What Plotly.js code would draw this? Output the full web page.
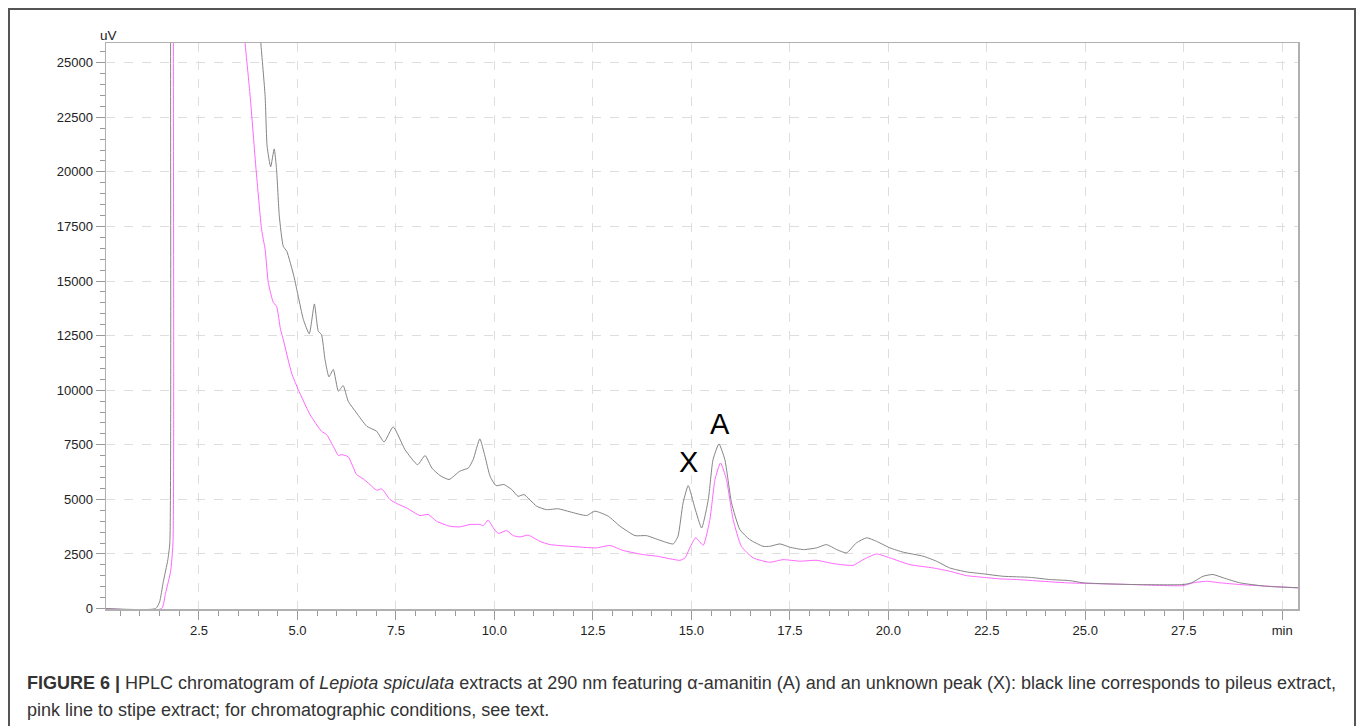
<!DOCTYPE html>
<html>
<head>
<meta charset="utf-8">
<script src="https://cdn.plot.ly/plotly-3.0.1.min.js"></script>
<style>
  html, body { margin:0; padding:0; background:#fff; width:1358px; height:726px; overflow:hidden; }
  #frame { position:absolute; left:8px; top:8px; width:1348px; height:740px; border:2px solid #555; box-sizing:border-box; }
  #chart { position:absolute; left:0; top:0; width:1358px; height:726px; }
</style>
</head>
<body>
<div id="frame"></div>
<div id="chart"></div>
<script>
// Retention time (min) and signal (uV), pileus extract (black line)
var pileusTime = [
  0.14, 1.40, 1.50, 1.59, 1.71, 1.76, 1.78, 1.80, 3.60, 3.95,
  4.07, 4.18, 4.23, 4.32, 4.41, 4.47, 4.54, 4.64, 4.73, 4.91,
  5.02, 5.15, 5.30, 5.43, 5.53, 5.61, 5.70, 5.80, 5.91, 6.04,
  6.16, 6.29, 6.50, 6.76, 7.01, 7.20, 7.43, 7.73, 8.05, 8.24,
  8.41, 8.62, 8.85, 9.12, 9.34, 9.46, 9.63, 9.76, 9.89, 10.04,
  10.24, 10.44, 10.60, 10.75, 11.07, 11.32, 11.62, 11.92, 12.34, 12.55,
  12.89, 13.19, 13.57, 13.86, 14.20, 14.54, 14.66, 14.79, 14.92, 15.09,
  15.26, 15.43, 15.55, 15.70, 15.85, 16.02, 16.23, 16.48, 16.82, 16.99,
  17.25, 17.50, 17.84, 18.18, 18.43, 18.69, 18.94, 19.19, 19.45, 19.70,
  20.04, 20.38, 20.88, 21.22, 21.56, 21.98, 22.41, 22.91, 23.59, 24.10,
  24.61, 24.94, 26.21, 27.48, 27.70, 27.99, 28.24, 28.50, 28.92, 29.60,
  30.40
];
var pileusSignal = [
  0, 0, 300, 1190, 2240, 3000, 27000, 90000, 90000, 28600,
  25900, 23460, 21170, 20230, 21050, 20100, 17970, 16590, 16360, 15220,
  14300, 13240, 12580, 13950, 12700, 12550, 11400, 10610, 10950, 9950,
  10210, 9490, 8960, 8350, 8120, 7630, 8320, 7280, 6590, 7010,
  6440, 6090, 5910, 6290, 6440, 6820, 7770, 6980, 6060, 5630,
  5680, 5450, 5140, 5220, 4690, 4530, 4570, 4430, 4260, 4460,
  4230, 3770, 3340, 3340, 3130, 2960, 3310, 4840, 5630, 4600,
  3690, 4990, 6820, 7540, 6820, 4840, 3620, 3160, 2850, 2850,
  2960, 2810, 2700, 2780, 2930, 2700, 2550, 3010, 3240, 3080,
  2780, 2580, 2400, 2170, 1860, 1680, 1590, 1480, 1430, 1330,
  1280, 1180, 1100, 1100, 1180, 1480, 1560, 1410, 1180, 1020,
  950
];

// Stipe extract (pink line)
var stipeTime = [
  0.14, 1.55, 1.65, 1.78, 1.84, 1.85, 1.87, 3.40, 3.55, 3.67,
  3.80, 3.95, 4.09, 4.18, 4.26, 4.39, 4.47, 4.57, 4.64, 4.85,
  5.02, 5.32, 5.61, 5.74, 5.91, 6.04, 6.12, 6.29, 6.50, 6.67,
  6.84, 7.01, 7.14, 7.35, 7.52, 7.77, 8.11, 8.32, 8.53, 8.87,
  9.12, 9.38, 9.63, 9.72, 9.84, 9.97, 10.10, 10.31, 10.48, 10.65,
  10.86, 11.15, 11.41, 11.92, 12.59, 12.93, 13.27, 13.78, 14.12, 14.71,
  14.84, 14.96, 15.11, 15.30, 15.47, 15.60, 15.74, 15.89, 16.06, 16.27,
  16.57, 16.99, 17.33, 17.75, 18.18, 18.60, 19.11, 19.36, 19.70, 20.04,
  20.55, 21.14, 21.56, 21.98, 22.41, 22.83, 23.25, 24.52, 26.21, 27.48,
  27.74, 28.08, 28.42, 28.92, 30.40
];
var stipeSignal = [
  0, 0, 700, 1700, 3000, 27000, 90000, 90000, 28200, 25900,
  23460, 20100, 17360, 16440, 14930, 14000, 13850, 12780, 12320, 10790,
  10030, 8880, 8120, 7970, 7430, 7010, 7050, 6950, 6140, 5940,
  5680, 5420, 5480, 4990, 4810, 4610, 4260, 4310, 4000, 3770,
  3740, 3850, 3850, 3800, 4050, 3700, 3440, 3570, 3340, 3280,
  3360, 3080, 2930, 2850, 2780, 2890, 2660, 2470, 2400, 2210,
  2320, 2780, 3240, 2900, 4080, 5910, 6670, 5910, 4080, 2850,
  2320, 2120, 2240, 2170, 2210, 2060, 1980, 2240, 2500, 2320,
  2010, 1860, 1710, 1510, 1430, 1360, 1330, 1180, 1100, 1050,
  1180, 1250, 1180, 1100, 950
];

var xTickVals = [2.5, 5.0, 7.5, 10.0, 12.5, 15.0, 17.5, 20.0, 22.5, 25.0, 27.5, 30.0];
var xTickText = ['2.5', '5.0', '7.5', '10.0', '12.5', '15.0', '17.5', '20.0', '22.5', '25.0', '27.5', 'min'];
var yTickVals = [0, 2500, 5000, 7500, 10000, 12500, 15000, 17500, 20000, 22500, 25000];
var yTickText = ['0', '2500', '5000', '7500', '10000', '12500', '15000', '17500', '20000', '22500', '25000'];

var peakLabels = ['X', 'A'];
var peakTime = [14.92, 15.72];
var peakLabelY = [6690, 8430];

var traces = [
  { x: stipeTime, y: stipeSignal, type: 'scatter', mode: 'lines',
    line: { color: '#ff66ff', width: 1, shape: 'spline', smoothing: 0.5 }, name: 'stipe', hoverinfo: 'skip' },
  { x: pileusTime, y: pileusSignal, type: 'scatter', mode: 'lines',
    line: { color: '#858585', width: 1, shape: 'spline', smoothing: 0.5 }, name: 'pileus', hoverinfo: 'skip' }
];

var font = 'Liberation Sans, Arial, Helvetica, sans-serif';
var annotations = [];
for (var i = 0; i < peakLabels.length; i++) {
  annotations.push({ x: peakTime[i], y: peakLabelY[i], xref: 'x', yref: 'y', text: peakLabels[i],
    showarrow: false, xanchor: 'center', yanchor: 'middle',
    font: { family: font, size: 29, color: '#000' } });
}
annotations.push({ x: -0.0067, y: 1.0141, xref: 'paper', yref: 'paper', text: 'uV', showarrow: false,
  xanchor: 'left', yanchor: 'middle', font: { family: font, size: 13.5, color: '#222' } });
annotations.push({ x: -0.068, y: -0.1307, xref: 'paper', yref: 'paper', showarrow: false,
  xanchor: 'left', yanchor: 'middle', align: 'left',
  text: '<b>FIGURE 6 |</b> HPLC chromatogram of <i>Lepiota spiculata</i> extracts at 290 nm featuring α-amanitin (A) and an unknown peak (X): black line corresponds to pileus extract,',
  font: { family: font, size: 18, color: '#333' } });
annotations.push({ x: -0.068, y: -0.1784, xref: 'paper', yref: 'paper', showarrow: false,
  xanchor: 'left', yanchor: 'middle', align: 'left',
  text: 'pink line to stipe extract; for chromatographic conditions, see text.',
  font: { family: font, size: 18, color: '#333' } });

var layout = {
  width: 1358, height: 726,
  margin: { l: 106, r: 60, t: 43, b: 117, pad: 0 },
  paper_bgcolor: 'rgba(0,0,0,0)',
  plot_bgcolor: '#ffffff',
  showlegend: false,
  font: { family: font, size: 13, color: '#222' },
  xaxis: {
    range: [0.14, 30.4], tickmode: 'array', tickvals: xTickVals, ticktext: xTickText,
    ticks: 'outside', ticklen: 9, tickcolor: '#9a9a9a', tickwidth: 1,
    showline: true, linecolor: '#b0b0b0', linewidth: 1.5, mirror: true,
    showgrid: true, gridcolor: '#dedede', griddash: 'dash', gridwidth: 1, zeroline: false,
    minor: { tickmode: 'linear', tick0: 0, dtick: 0.5, ticks: 'outside', ticklen: 5, tickcolor: '#9a9a9a', showgrid: false },
    tickfont: { family: font, size: 13, color: '#222' }
  },
  yaxis: {
    range: [-20, 25900], tickmode: 'array', tickvals: yTickVals, ticktext: yTickText,
    ticks: 'outside', ticklen: 9, tickcolor: '#9a9a9a', tickwidth: 1,
    showline: true, linecolor: '#b0b0b0', linewidth: 1.5, mirror: true,
    showgrid: true, gridcolor: '#dedede', griddash: 'dash', gridwidth: 1, zeroline: false,
    minor: { tickmode: 'linear', tick0: 0, dtick: 500, ticks: 'outside', ticklen: 5, tickcolor: '#9a9a9a', showgrid: false },
    tickfont: { family: font, size: 13, color: '#222' }
  },
  annotations: annotations
};

Plotly.newPlot('chart', traces, layout, { displayModeBar: false, staticPlot: true });
</script>
</body>
</html>
